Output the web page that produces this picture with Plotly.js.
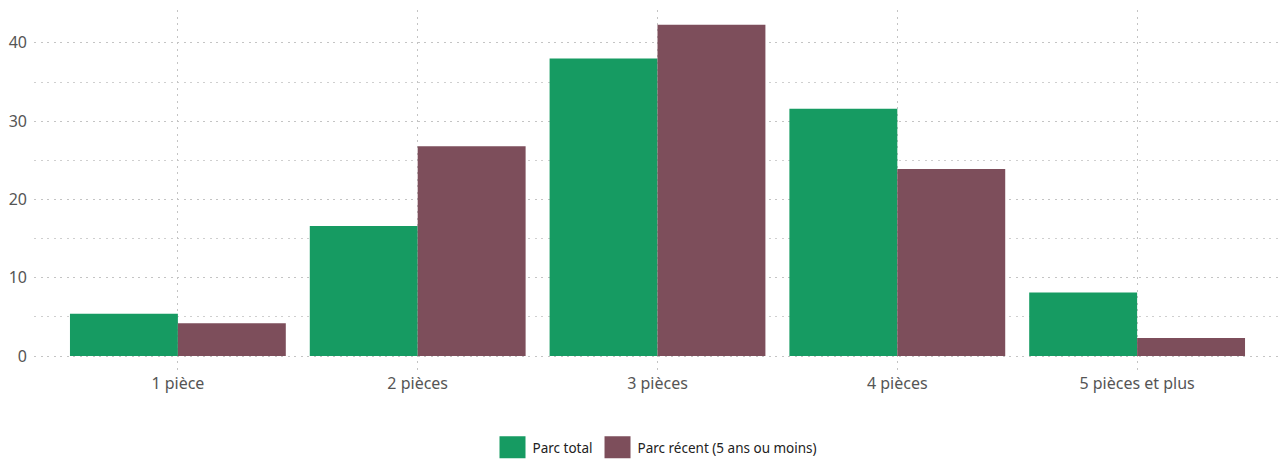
<!DOCTYPE html>
<html>
<head>
<meta charset="utf-8">
<script src="https://cdn.plot.ly/plotly-3.0.1.min.js"></script>
<style>html,body{margin:0;padding:0;background:#fff}#chart{width:1281px;height:459px}</style>
</head>
<body>
<div id="chart"></div>
<script>
const categories = ["1 pièce", "2 pièces", "3 pièces", "4 pièces", "5 pièces et plus"];
const seriesNames = ["Parc total", "Parc récent (5 ans ou moins)"];
const parcTotal = [5.4, 16.6, 38.0, 31.6, 8.1];
const parcRecent = [4.2, 26.8, 42.3, 23.9, 2.3];
const yTickVals = [0, 10, 20, 30, 40];

const colors = ["#169B62", "#7D4E5B"];
const font = "Noto Sans, Lato, sans-serif";
const gridDash = "2px,4.5px";

const traces = [parcTotal, parcRecent].map((vals, i) => ({
  type: "bar",
  x: categories,
  y: vals,
  name: seriesNames[i],
  marker: { color: colors[i] },
  hoverinfo: "x+y+name"
}));

const layout = {
  width: 1281,
  height: 459,
  margin: { l: 34, r: 0, t: 10, b: 87, autoexpand: false },
  paper_bgcolor: "#fff",
  plot_bgcolor: "#fff",
  barmode: "group",
  bargap: 0.1,
  bargroupgap: 0,
  font: { family: font, color: "#555", size: 15 },
  xaxis: {
    type: "category",
    range: [-0.6, 4.6],
    showgrid: true,
    gridcolor: "#c4c4c4",
    griddash: gridDash,
    gridwidth: 1,
    zeroline: false,
    showline: false,
    ticks: "",
    tickfont: { size: 16, color: "#555" },
    fixedrange: true,
    automargin: false
  },
  yaxis: {
    range: [-2.04, 44.2],
    tickvals: yTickVals,
    showgrid: true,
    gridcolor: "#c4c4c4",
    griddash: gridDash,
    gridwidth: 1,
    minor: { dtick: 5, tick0: 0, showgrid: true, gridcolor: "#cfcfcf", griddash: gridDash, gridwidth: 1 },
    zeroline: false,
    showline: false,
    ticks: "",
    ticklabelstandoff: 6,
    tickfont: { size: 16, color: "#555" },
    fixedrange: true,
    automargin: false
  },
  showlegend: true,
  legend: {
    orientation: "h",
    x: 0.5,
    xanchor: "center",
    y: -0.166,
    yanchor: "top",
    font: { size: 13.5, color: "#222" },
    itemclick: false,
    itemdoubleclick: false
  }
};

Plotly.newPlot("chart", traces, layout, { displayModeBar: false }).then(() => {
  document.querySelectorAll("#chart .legendpoints path").forEach(p => {
    p.setAttribute("d", "M13,11H-13V-11H13Z");
    p.style.strokeWidth = "0";
  });
});
</script>
</body>
</html>
